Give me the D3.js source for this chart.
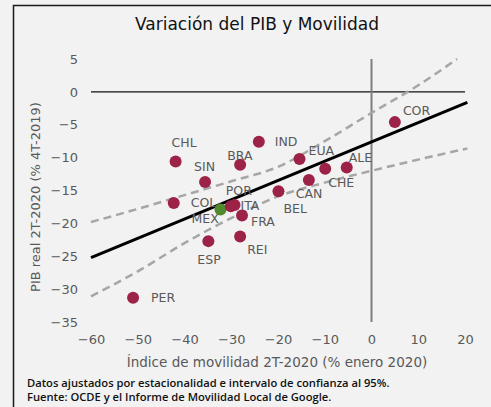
<!DOCTYPE html>
<html>
<head>
<meta charset="utf-8">
<script src="https://cdnjs.cloudflare.com/ajax/libs/d3/7.8.5/d3.min.js"></script>
<style>
	body { margin: 0; background: #f2f2f2; }
	svg { display: block; }
</style>
</head>
<body>
<div class="container"></div>
<script>
// datos
var countries = ["CHL", "SIN", "BRA", "IND", "EUA", "ALE", "CHE", "CAN", "BEL",
	"COL", "MEX", "POR", "ITA", "FRA", "REI", "ESP", "PER", "COR"];
var mobility = [-41.9, -35.6, -28.1, -24.1, -15.4, -5.3, -9.9, -13.4, -19.9,
	-42.3, -32.3, -30.1, -29.3, -27.7, -28.1, -34.9, -51.0, 5.0];
var gdp = [-10.6, -13.7, -11.1, -7.6, -10.2, -11.5, -11.7, -13.4, -15.1,
	-16.9, -17.9, -17.4, -17.2, -18.8, -22.0, -22.7, -31.3, -4.6];

// recta de regresion y bandas de confianza (leidas)
var fitX = [-60, 20.5];
var fitY = [-25.2, -1.6];
var bandX = [-60, -50, -40, -30, -20, -10, 0, 10, 18.3];
var bandUpper = [-19.8, -17.8, -15.7, -13.6, -11.4, -7.5, -3.2, 1.0, 5.0];
var bandLowX = [-60, -50, -40, -30, -20, -10, 0, 10, 20.5];
var bandLower = [-31.1, -27.3, -23.0, -19.2, -15.9, -13.8, -12.0, -10.3, -8.6];

var xTicks = [-60, -50, -40, -30, -20, -10, 0, 10, 20];
var yTicks = [5, 0, -5, -10, -15, -20, -25, -30, -35];

var W = 491, H = 407;
var margin = {top: 59, right: 26, bottom: 85, left: 91},
	width = W - margin.left - margin.right,
	height = H - margin.top - margin.bottom;

var font = "'DejaVu Sans', sans-serif";
var grey = "#595959";

var x_scale = d3.scaleLinear().domain([-60, 20]).range([0, width]);
var y_scale = d3.scaleLinear().domain([-35, 5]).range([height, 0]);

var svg = d3.select(".container").append("svg")
	.attr("width", W)
	.attr("height", H);

svg.append("rect").attr("width", W).attr("height", H).attr("fill", "#f2f2f2");

// marco
svg.append("path")
	.attr("d", "M13.5," + H + "V5.5H" + W)
	.attr("fill", "none")
	.attr("stroke", "#1a1a1a")
	.attr("stroke-width", 1.5);

svg.append("text")
	.attr("x", 257).attr("y", 30)
	.attr("text-anchor", "middle")
	.attr("font-family", font)
	.attr("font-size", 17)
	.attr("fill", "#111")
	.text("Variación del PIB y Movilidad");

var canvas = svg.append("g")
	.attr("transform", "translate(" + margin.left + "," + margin.top + ")");

// ejes sin linea
var y_axis = d3.axisLeft(y_scale).tickValues(yTicks).tickSize(0).tickPadding(13);
var x_axis = d3.axisBottom(x_scale).tickValues(xTicks).tickSize(0).tickPadding(13);

var gy = canvas.append("g").call(y_axis);
var gx = canvas.append("g").attr("transform", "translate(0," + height + ")").call(x_axis);
[gx, gy].forEach(function(g) {
	g.select(".domain").remove();
	g.selectAll("text")
		.attr("font-family", font)
		.attr("font-size", 13)
		.attr("fill", grey);
});

// linea del cero y eje vertical en 0
canvas.append("line")
	.attr("x1", x_scale(-60)).attr("x2", x_scale(20))
	.attr("y1", y_scale(0)).attr("y2", y_scale(0))
	.attr("stroke", "#111").attr("stroke-width", 1.2);

canvas.append("line")
	.attr("x1", x_scale(0)).attr("x2", x_scale(0))
	.attr("y1", y_scale(5)).attr("y2", y_scale(-35))
	.attr("stroke", "#7f7f7f").attr("stroke-width", 2);

var lineFunction = d3.line()
	.x(function(d) { return x_scale(d[0]); })
	.y(function(d) { return y_scale(d[1]); })
	.curve(d3.curveMonotoneX);

canvas.append("path")
	.attr("d", lineFunction(d3.zip(bandX, bandUpper)))
	.attr("fill", "none")
	.attr("stroke", "#a6a6a6")
	.attr("stroke-width", 2.5)
	.attr("stroke-dasharray", "8,5");

canvas.append("path")
	.attr("d", lineFunction(d3.zip(bandLowX, bandLower)))
	.attr("fill", "none")
	.attr("stroke", "#a6a6a6")
	.attr("stroke-width", 2.5)
	.attr("stroke-dasharray", "8,5");

canvas.append("path")
	.attr("d", lineFunction(d3.zip(fitX, fitY)))
	.attr("fill", "none")
	.attr("stroke", "#000")
	.attr("stroke-width", 3);

// puntos (MEX primero para que quede debajo)
var points = countries.map(function(c, i) {
	return {name: c, x: mobility[i], y: gdp[i]};
});
points.sort(function(a, b) { return (b.name === "MEX") - (a.name === "MEX"); });

canvas.selectAll("circle.pt")
	.data(points)
	.enter()
	.append("circle")
	.attr("class", "pt")
	.attr("r", 6)
	.attr("cx", function(d) { return x_scale(d.x); })
	.attr("cy", function(d) { return y_scale(d.y); })
	.attr("fill", function(d) { return d.name === "MEX" ? "#4f8a2c" : "#9c2247"; });

// desplazamiento de etiquetas respecto al punto
var labelOffset = {
	CHL: [-4, -14.5], SIN: [-11, -10.5], BRA: [-13, -4.5], IND: [16, 4.5],
	EUA: [9, -3.5], ALE: [2, -5], CHE: [3, 18.5], CAN: [-13, 18.5],
	BEL: [5, 22], COL: [17, 4.5], MEX: [-29, 13.5], POR: [-5, -11.5],
	ITA: [6, 5], FRA: [9, 10.8], REI: [7, 17.8], ESP: [-11, 22.5],
	PER: [18, 4.8], COR: [8, -7.5]
};

canvas.selectAll("text.lbl")
	.data(points)
	.enter()
	.append("text")
	.attr("class", "lbl")
	.attr("x", function(d) { return x_scale(d.x) + labelOffset[d.name][0]; })
	.attr("y", function(d) { return y_scale(d.y) + labelOffset[d.name][1]; })
	.attr("font-family", font)
	.attr("font-size", 12.5)
	.attr("fill", grey)
	.text(function(d) { return d.name; });

// titulos de ejes
svg.append("text")
	.attr("x", 277).attr("y", 367)
	.attr("text-anchor", "middle")
	.attr("font-family", font)
	.attr("font-size", 13.5)
	.attr("fill", grey)
	.text("Índice de movilidad 2T-2020 (% enero 2020)");

svg.append("text")
	.attr("transform", "translate(40,197) rotate(-90)")
	.attr("text-anchor", "middle")
	.attr("font-family", font)
	.attr("font-size", 13)
	.attr("fill", grey)
	.text("PIB real 2T-2020 (% 4T-2019)");

// notas
var notes = ["Datos ajustados por estacionalidad e intervalo de confianza al 95%.",
	"Fuente: OCDE y el Informe de Movilidad Local de Google."];
svg.selectAll("text.note")
	.data(notes)
	.enter()
	.append("text")
	.attr("class", "note")
	.attr("x", 27)
	.attr("y", function(d, i) { return 387 + i * 14; })
	.attr("font-family", "'Open Sans', 'DejaVu Sans', sans-serif")
	.attr("font-size", 11.2)
	.attr("font-weight", 600)
	.attr("fill", "#111")
	.text(function(d) { return d; });
</script>
</body>
</html>
